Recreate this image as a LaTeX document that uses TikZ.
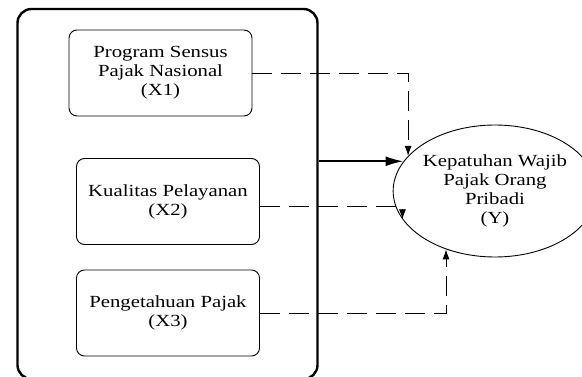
\documentclass[tikz,border=0pt]{standalone}
\usepackage{fontspec}
\setmainfont{Liberation Serif}[FakeStretch=1.22]
\usetikzlibrary{shapes.geometric,arrows.meta,calc}

\begin{document}
\begin{tikzpicture}[x=1pt,y=-1pt,line width=0.9pt,
  var/.style={draw,rounded corners=8pt,minimum width=183pt,minimum height=86pt,align=center,font=\fontsize{17}{19}\selectfont},
  dep/.style={draw,ellipse,minimum width=176pt,minimum height=132pt,inner sep=0pt,align=center,font=\fontsize{17}{19}\selectfont},
  dashlink/.style={dash pattern=on 20pt off 9pt,-{Latex[length=10pt,width=7pt]}}]

\useasboundingbox (0,0) rectangle (582,377);

%%%%%%%%%%%%%%%%%%%%%% VARIABLES X

\node[draw,line width=2.4pt,rounded corners=14pt,minimum width=300pt,minimum height=370pt] (frame) at (167.5,194) {};

\node[var] (x1) at (160.5,73) {Program Sensus\\Pajak Nasional\\(X1)};
\node[var] (x2) at (168,201.5) {Kualitas Pelayanan\\(X2)};
\node[var] (x3) at (168,313) {Pengetahuan Pajak\\(X3)};

%%%%%%%%%%%%%%%%%%%%%% VARIABLE Y

\node[dep] (y) at (495,191) {Kepatuhan Wajib\\Pajak Orang\\Pribadi\\(Y)};

%%%%%%%%%%%%%%%%%%%%%% LINKS

\draw[dashlink] (x1.east) -| (y.158);
\draw[dashlink] ([yshift=-5pt]x2.east) -| (y.197);
\draw[dashlink] (x3.east) -| (y.230);
\draw[line width=2pt,-{Latex[length=18pt,width=10pt]}] (frame.east |- y.162) -- (y.162);

\end{tikzpicture}
\end{document}
